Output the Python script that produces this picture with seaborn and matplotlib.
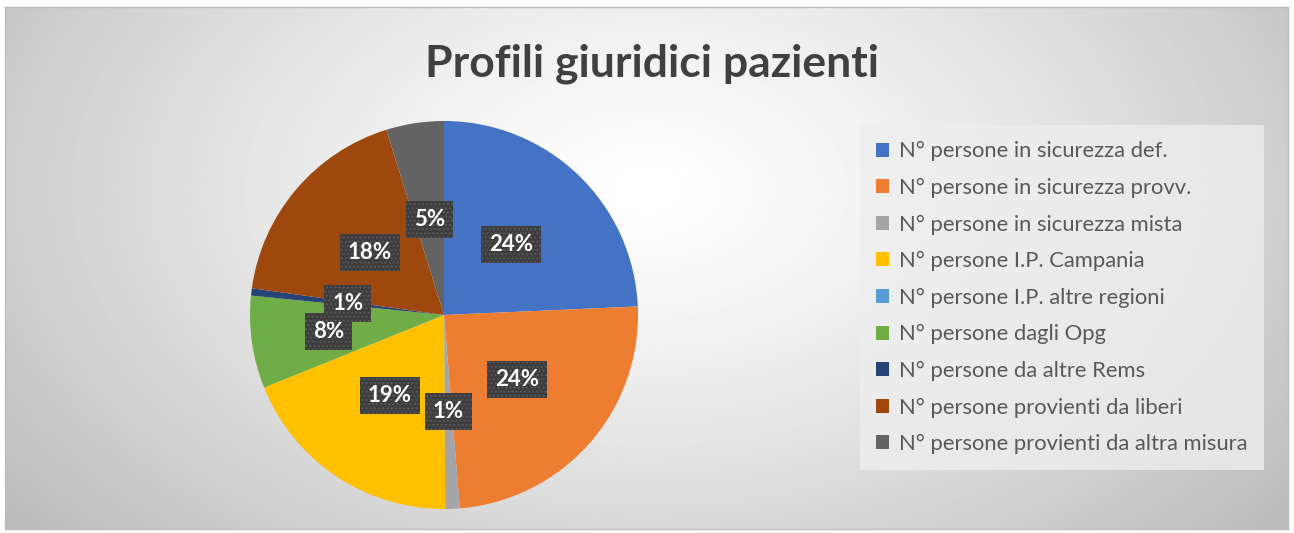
import numpy as np
import matplotlib.pyplot as plt
import seaborn as sns

# profili giuridici (percentuali)
categorie = [
    "N° persone in sicurezza def.",
    "N° persone in sicurezza provv.",
    "N° persone in sicurezza mista",
    "N° persone I.P. Campania",
    "N° persone I.P. altre regioni",
    "N° persone dagli Opg",
    "N° persone da altre Rems",
    "N° persone provienti da liberi",
    "N° persone provienti da altra misura",
]
valori = [24.3, 24.4, 1.2, 19.0, 0.0, 7.7, 0.6, 18.0, 4.8]
colori = ["#4472C4", "#ED7D31", "#A5A5A5", "#FFC000", "#5B9BD5",
          "#70AD47", "#264478", "#9E480E", "#636363"]

sns.set_theme(style="white")
plt.rcParams["font.family"] = ["Lato", "DejaVu Sans"]

fig = plt.figure(figsize=(12.94, 5.33), dpi=100)
fig.patch.set_facecolor("white")

# sfondo sfumato
bg = fig.add_axes([0.004, 0.008, 0.991, 0.979])
yy, xx = np.mgrid[0:1:300j, 0:1:700j]
dist = np.sqrt(((xx - 0.5) / 0.7) ** 2 + ((yy - 0.35) / 1.1) ** 2)
grad = 1 - 0.3 * np.clip(dist, 0, 1) ** 1.3
bg.imshow(grad, cmap="gray", vmin=0, vmax=1, aspect="auto", origin="upper")
bg.set_xticks([])
bg.set_yticks([])
for s in bg.spines.values():
    s.set_color("#bdbdbd")
    s.set_linewidth(1)

# torta
ax = fig.add_axes([250 / 1294, 24 / 533, 388 / 1294, 388 / 533])
wedges, texts, autotexts = ax.pie(
    valori, colors=colori, startangle=90, counterclock=False,
    autopct=lambda p: f"{p:.0f}%" if p > 0.3 else "",
    pctdistance=0.5, wedgeprops=dict(linewidth=0),
)
ax.set_xlim(-1, 1)
ax.set_ylim(-1, 1)
ax.set_aspect("equal")
ax.axis("off")

for i, t in enumerate(autotexts):
    t.set_color("white")
    t.set_fontsize(16)
    t.set_fontweight("bold")
    t.set_bbox(dict(boxstyle="square,pad=0.36", facecolor="#3d3d3d",
                    edgecolor="#585858", hatch="....", linewidth=0))
    if i == 5:
        x, y = t.get_position()
        t.set_position((x * 1.2, y * 1.2))

fig.text(0.504, 0.88, "Profili giuridici pazienti", ha="center", va="center",
         fontsize=32, fontweight="bold", color="#404040")

leg = fig.legend(wedges, categorie, loc="upper left",
                 bbox_to_anchor=(867 / 1294, 1 - 132 / 533),
                 frameon=True, fontsize=15.8, labelcolor="#595959",
                 handlelength=0.6, handleheight=0.6, handletextpad=0.45,
                 labelspacing=0.75, borderpad=0.42, borderaxespad=0)
leg.get_frame().set_facecolor("#eeeeee")
leg.get_frame().set_edgecolor("none")
leg.get_frame().set_alpha(0.8)
leg.get_frame().set_boxstyle("square")

plt.savefig("out.png", dpi=100)
plt.close()
